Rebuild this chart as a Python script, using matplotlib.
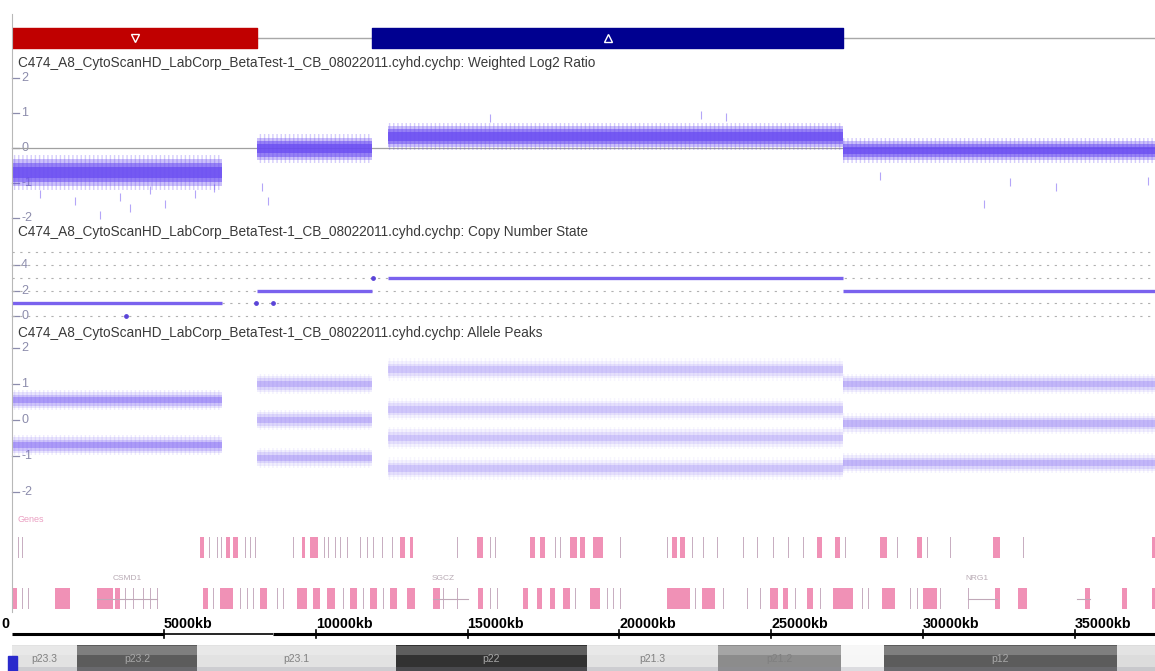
import numpy as np
import matplotlib.pyplot as plt
from matplotlib.patches import Rectangle
from matplotlib.lines import Line2D

plt.rcParams['font.family'] = ['Liberation Sans', 'DejaVu Sans']

W, H = 1155, 671
X0_PX = 12            # pixel column of 0 kb
KB_PER_PX = 32.93
XMAX = (W - X0_PX) * KB_PER_PX

sample = 'C474_A8_CytoScanHD_LabCorp_BetaTest-1_CB_08022011.cyhd.cychp'

# copy number calls (kb)
loss_start, loss_end = 0, 8070
gain_start, gain_end = 11850, 27370

# segments (kb)
seg_start = [0, 8070, 12380, 27370]
seg_end = [6915, 11860, 27370, 37640]
log2_level = [-0.7, -0.02, 0.33, -0.07]
log2_spread = [0.38, 0.32, 0.3, 0.28]
cn_state = [1, 2, 3, 2]
allele_peaks = [[0.55, -0.7], [1.0, 0.0, -1.05], [1.4, 0.3, -0.5, -1.35], [1.0, -0.1, -1.2]]
allele_spread = [0.22, 0.22, 0.24, 0.22]

# isolated markers
cn_dot_kb = [3754, 8035, 8595, 11888]
cn_dot_state = [0, 1, 1, 3]
log2_out_kb = [920, 2070, 2900, 3560, 3890, 4540, 5040, 6030, 6650, 8230, 8430,
               15740, 22690, 23510, 28580, 32010, 32860, 34380, 37410]
log2_out_val = [-1.3, -1.5, -1.9, -1.4, -1.7, -1.2, -1.6, -1.3, -1.15, -1.1, -1.5,
                0.86, 0.94, 0.9, -0.8, -1.6, -0.97, -1.1, -0.95]

# genes (kb)
gene_row1_start = [200, 330, 6190, 6490, 6750, 6880, 7050, 7280, 7670, 7840, 8000, 9250, 9550, 9810,
                   10280, 10410, 10640, 10800, 11030, 11460, 11690, 11890, 12180, 12510, 12780, 13110,
                   14650, 15310, 15740, 15910, 17060, 17390, 17880, 18050, 18380, 18700, 19130, 20020,
                   21570, 21730, 22000, 22390, 22760, 23220, 24070, 24530, 25060, 25550, 26050, 26510,
                   27100, 27430, 28580, 29140, 29800, 30130, 30890, 32300, 33290, 37540]
gene_row1_len = [40, 40, 130, 40, 40, 40, 130, 160, 40, 40, 40, 40, 100, 260,
                 40, 40, 40, 40, 40, 40, 40, 40, 40, 40, 160, 100,
                 40, 200, 40, 40, 160, 160, 40, 40, 230, 160, 330, 40,
                 40, 160, 160, 40, 40, 40, 40, 40, 40, 40, 40, 160,
                 160, 40, 230, 40, 160, 40, 40, 230, 40, 100]
gene_row2_start = [30, 330, 530, 1420, 2800, 3390, 3720, 3980, 4310, 4540, 4770, 6290, 6620, 6850,
                   7510, 7740, 7940, 8170, 8730, 8920, 9390, 9910, 10370, 10900, 11130, 11560, 11790,
                   12220, 12450, 13010, 13860, 14190, 14650, 15350, 15740, 15970, 16830, 17290, 17720,
                   18140, 18540, 19030, 19590, 19790, 20020, 21570, 22490, 22720, 23410, 24200, 24630,
                   24960, 25390, 25780, 26180, 26610, 27040, 27990, 28190, 28650, 29580, 29800, 30000,
                   30560, 31480, 32370, 33130, 35330, 36550, 37540]
gene_row2_len = [130, 40, 40, 490, 530, 160, 40, 40, 40, 40, 40, 160, 40, 430,
                 40, 40, 40, 230, 40, 40, 330, 230, 260, 40, 230, 40, 230,
                 40, 230, 260, 230, 40, 40, 160, 40, 40, 160, 160, 160,
                 230, 40, 330, 40, 40, 40, 760, 40, 430, 40, 40, 40,
                 260, 160, 40, 200, 40, 660, 40, 40, 430, 40, 40, 460,
                 40, 40, 160, 300, 160, 160, 100]
intron_start = [2800, 13860, 31480, 35070]
intron_end = [4780, 15020, 32440, 35500]
gene_names = ['CSMD1', 'SGCZ', 'NRG1']
gene_label_kb = [3790, 14190, 31780]

# ideogram (kb)
band_start = [0, 2140, 6090, 12640, 18930, 23240, 27300, 28710, 36380]
band_end = [2140, 6090, 12640, 18930, 23240, 27300, 28710, 36380, 38000]
band_name = ['p23.3', 'p23.2', 'p23.1', 'p22', 'p21.3', 'p21.2', '', 'p12', '']
band_stain = ['gneg', 'gpos75', 'gneg', 'gpos100', 'gneg', 'gpos50', 'gneg', 'gpos75', 'gneg']

xtick_kb = [5000, 10000, 15000, 20000, 25000, 30000, 35000]

fig = plt.figure(figsize=(W / 100, H / 100), dpi=100)
fig.patch.set_facecolor('white')

PURPLE = '#6a4cf2'
TICKC = '#8c8cac'


def panel(top, bottom, zero=None, unit=None):
    ax = fig.add_axes([X0_PX / W, 1 - bottom / H, (W - X0_PX) / W, (bottom - top) / H])
    ax.set_xlim(0, XMAX)
    if zero is not None:
        ax.set_ylim((zero - bottom) / unit, (zero - top) / unit)
    ax.axis('off')
    return ax


def yticks(ax, vals):
    tr = ax.get_yaxis_transform()
    for v in vals:
        ax.plot([0, 0.006], [v, v], transform=tr, color=TICKC, lw=0.9, clip_on=False, zorder=1)
        ax.text(0.008, v, str(v), transform=tr, color=TICKC, fontsize=9, va='center', ha='left', zorder=1)


def band(ax, x0, x1, y, hw, alphas):
    for frac, a in zip([1.0, 0.7, 0.4], alphas):
        ax.fill_between([x0, x1], y - hw * frac, y + hw * frac, color=PURPLE, alpha=a, lw=0, zorder=3)
    ax.fill_between([x0, x1], y - hw * 1.3, y + hw * 1.3, facecolor='none', edgecolor=PURPLE,
                    hatch='||||', lw=0, alpha=alphas[0] * 0.8, zorder=3)


def title(y, text):
    fig.text(18 / W, 1 - y / H, text, fontsize=9.8, color='#3a3a3a', va='center', ha='left')


# left frame line
fig.add_artist(Line2D([X0_PX / W, X0_PX / W], [1 - 14 / H, 1 - 612 / H], color='#b8b8b8', lw=0.8))

# call bar
ax = panel(26, 50)
ax.set_ylim(0, 1)
ax.plot([0, XMAX], [0.5, 0.5], color='#a8a8a8', lw=1, zorder=1)
ax.broken_barh([(loss_start, loss_end - loss_start)], (0.08, 0.84), color='#c00000', zorder=2)
ax.broken_barh([(gain_start, gain_end - gain_start)], (0.08, 0.84), color='#000090', zorder=2)
ax.plot((loss_start + loss_end) / 2, 0.5, marker='v', ms=6, mfc='none', mec='white', mew=1, zorder=3)
ax.plot((gain_start + gain_end) / 2, 0.5, marker='^', ms=6, mfc='none', mec='white', mew=1, zorder=3)

# weighted log2 ratio
title(63, sample + ': Weighted Log2 Ratio')
ax = panel(70, 226, zero=148, unit=35)
yticks(ax, [2, 1, 0, -1, -2])
ax.axhline(0, color='#a0a0a0', lw=0.9, zorder=2)
for s, e, lv, sp in zip(seg_start, seg_end, log2_level, log2_spread):
    band(ax, s, e, lv, sp, [0.35, 0.55, 0.75])
ax.scatter(log2_out_kb, log2_out_val, marker='|', s=40, color=PURPLE, alpha=0.5, lw=0.8, zorder=3)

# copy number state
title(232, sample + ': Copy Number State')
ax = panel(243, 322, zero=316, unit=12.75)
yticks(ax, [4, 2, 0])
for lvl in range(6):
    ax.axhline(lvl, color='#b0b0b0', ls=(0, (2, 5)), lw=0.8, zorder=1)
for s, e, c in zip(seg_start, seg_end, cn_state):
    ax.plot([s, e], [c, c], color='#7a62ee', lw=2.4, solid_capstyle='butt', zorder=3)
ax.scatter(cn_dot_kb, cn_dot_state, s=6, color='#5a44d8', zorder=3)

# allele peaks
title(333, sample + ': Allele Peaks')
ax = panel(340, 505, zero=420, unit=36)
yticks(ax, [2, 1, 0, -1, -2])
for s, e, peaks, sp in zip(seg_start, seg_end, allele_peaks, allele_spread):
    dens = 2.0 / len(peaks)
    for p in peaks:
        band(ax, s, e, p, sp, [0.14 * dens, 0.22 * dens, 0.34 * dens])

# genes
fig.text(18 / W, 1 - 520 / H, 'Genes', fontsize=6.5, color='#eba0c2', va='center')
ax = panel(515, 615)
ax.set_ylim(615, 515)
for starts, lens, y0 in [(gene_row1_start, gene_row1_len, 537), (gene_row2_start, gene_row2_len, 588)]:
    for s, ln in zip(starts, lens):
        col = '#bfa0b6' if ln <= 50 else '#ee7eaa'
        ax.broken_barh([(s, ln)], (y0, 21), color=col, alpha=0.85, lw=0)
for s, e in zip(intron_start, intron_end):
    ax.plot([s, e], [598.5, 598.5], color='#c0a8b8', lw=0.8)
for name, kb in zip(gene_names, gene_label_kb):
    ax.text(kb, 579, name, fontsize=6, color='#b8aab4', ha='center', va='center')

# position axis
ax = panel(612, 642)
ax.set_ylim(642, 612)
ax.plot([0, 5000], [634, 634], color='black', lw=2.2, solid_capstyle='butt')
ax.plot([5000, 8600], [634, 634], color='black', lw=1.2, solid_capstyle='butt')
ax.plot([8600, XMAX], [634, 634], color='black', lw=2.2, solid_capstyle='butt')
for t in xtick_kb:
    ax.plot([t, t], [630, 638], color='black', lw=1.2)
    ax.text(t, 624, f'{t}kb', fontsize=10.3, fontweight='bold', color='black', ha='left', va='center')
fig.text(1 / W, 1 - 624 / H, '0', fontsize=10.3, fontweight='bold', ha='left', va='center')

# chromosome ideogram
stain_col = {'gneg': '#e2e2e2', 'gpos50': '#8c8c8c', 'gpos75': '#5c5c5c', 'gpos100': '#323232'}
ax = panel(645, 671)
ax.set_ylim(0, 1)
for s, e, nm, st in zip(band_start, band_end, band_name, band_stain):
    c = stain_col[st]
    if nm == '':
        c = '#f6f6f6' if s < 30000 else '#dcdcdc'
    ax.broken_barh([(s, e - s)], (0, 1), color=c, lw=0)
    ax.text((s + e) / 2, 0.45, nm, fontsize=7.5, ha='center', va='center',
            color='#a8a8a8' if st in ('gpos75', 'gpos100') else '#808080')
ax.fill_between([0, XMAX], 0.62, 0.95, color='white', alpha=0.22, lw=0)
ax.fill_between([0, XMAX], 0.0, 0.15, color='#9090a0', alpha=0.25, lw=0)
fig.add_artist(Rectangle((8 / W, 0), 9 / W, 15 / H, transform=fig.transFigure, color='#2a2acc'))

fig.savefig('out.png', dpi=100, facecolor='white')
